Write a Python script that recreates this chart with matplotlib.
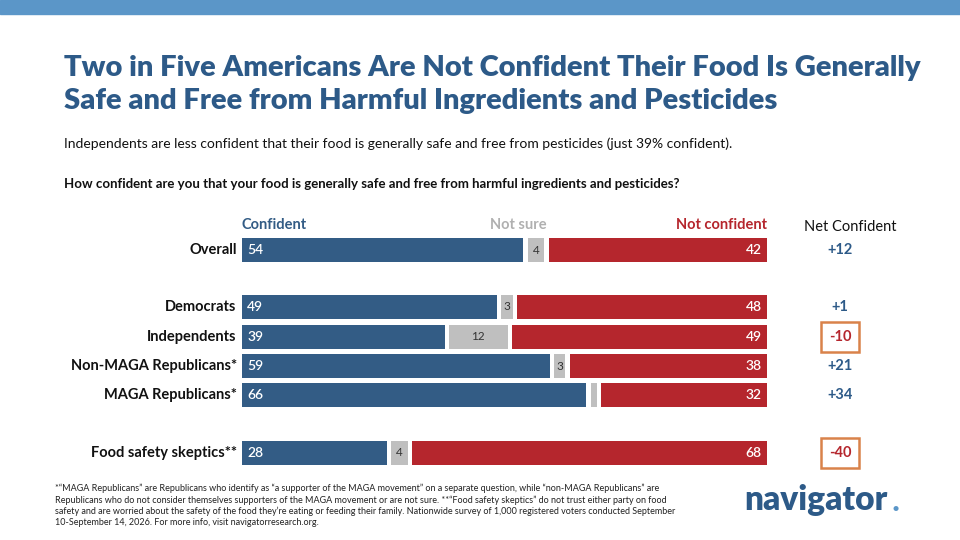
import matplotlib
matplotlib.use("Agg")
import matplotlib.pyplot as plt
from matplotlib.patches import Rectangle

# data
groups = ["Overall", "Democrats", "Independents", "Non-MAGA Republicans*",
          "MAGA Republicans*", "Food safety skeptics**"]
confident = [54, 49, 39, 59, 66, 28]
not_sure = [4, 3, 12, 3, 2, 4]
not_confident = [42, 48, 49, 38, 32, 68]
net = ["+12", "+1", "-10", "+21", "+34", "-40"]
boxed = [False, False, True, False, False, True]

# layout (pixel rows)
row_y = [250, 307, 337, 366, 395, 453]
BLUE = "#335c85"
RED = "#b5262d"
GRAY = "#bfbfbf"
NAVY = "#2d5a88"
ORANGE = "#d9824a"
FONT = ["Lato", "DejaVu Sans"]
GAP = 0.8

fig = plt.figure(figsize=(9.6, 5.4), dpi=100)
fig.patches.append(Rectangle((0, 1 - 14 / 540), 1, 14 / 540, transform=fig.transFigure,
                             color="#5b96c8", zorder=0))

ax = fig.add_axes([242 / 960, 0, 525 / 960, 1])
ax.set_xlim(0, 100)
ax.set_ylim(540, 0)
ax.axis("off")

h = 24
for i, y in enumerate(row_y):
    c, n, nc = confident[i], not_sure[i], not_confident[i]
    ax.barh(y, c - GAP / 2, left=0, height=h, color=BLUE)
    ax.barh(y, n - GAP, left=c + GAP / 2, height=h, color=GRAY)
    ax.barh(y, nc - GAP / 2, left=c + n + GAP / 2, height=h, color=RED)
    ax.text(1, y, str(c), color="white", va="center", ha="left", fontsize=10,
            weight="semibold", family=FONT)
    if n >= 3:
        ax.text(c + n / 2, y, str(n), color="#333333", va="center", ha="center",
                fontsize=8.5, family=FONT)
    ax.text(99, y, str(nc), color="white", va="center", ha="right", fontsize=10,
            weight="semibold", family=FONT)
    ax.text(-1, y, groups[i], va="center", ha="right", fontsize=10.5, weight="bold",
            color="#111111", family=FONT)
    netc = RED if boxed[i] else NAVY
    fig.text(840 / 960, 1 - y / 540, net[i], color=netc, va="center", ha="center",
             fontsize=10.5, weight="bold", family=FONT)
    if boxed[i]:
        fig.patches.append(Rectangle(((840 - 19) / 960, 1 - (y + 15) / 540), 38 / 960, 30 / 540,
                                     transform=fig.transFigure, fill=False,
                                     edgecolor=ORANGE, linewidth=1.8))

ax.text(0, 225, "Confident", color=BLUE, va="center", ha="left", fontsize=10.5,
        weight="bold", family=FONT)
ax.text(58, 225, "Not sure", color="#b0b0b0", va="center", ha="right", fontsize=10.5,
        weight="bold", family=FONT)
ax.text(100, 225, "Not confident", color=RED, va="center", ha="right", fontsize=10.5,
        weight="bold", family=FONT)
fig.text(850 / 960, 1 - 227 / 540, "Net Confident", va="center", ha="center",
         fontsize=10.5, color="#111111", family=FONT)

fig.text(64 / 960, 1 - 68 / 540, "Two in Five Americans Are Not Confident Their Food Is Generally",
         color=NAVY, fontsize=21, weight="heavy", va="center", family=FONT)
fig.text(64 / 960, 1 - 101 / 540, "Safe and Free from Harmful Ingredients and Pesticides",
         color=NAVY, fontsize=21, weight="heavy", va="center", family=FONT)
fig.text(64 / 960, 1 - 144 / 540,
         "Independents are less confident that their food is generally safe and free from "
         "pesticides (just 39% confident).", fontsize=10, va="center", color="#111111", family=FONT)
fig.text(64 / 960, 1 - 184 / 540,
         "How confident are you that your food is generally safe and free from harmful "
         "ingredients and pesticides?", fontsize=9.5, weight="bold", va="center",
         color="#111111", family=FONT)

foot = ("*\u201cMAGA Republicans\u201d are Republicans who identify as \u201ca supporter of the MAGA movement\u201d "
        "on a separate question, while \u201cnon-MAGA Republicans\u201d are\n"
        "Republicans who do not consider themselves supporters of the MAGA movement or are not sure. "
        "**\u201cFood safety skeptics\u201d do not trust either party on food\n"
        "safety and are worried about the safety of the food they\u2019re eating or feeding their family. "
        "Nationwide survey of 1,000 registered voters conducted September\n"
        "10-September 14, 2026. For more info, visit navigatorresearch.org.")
fig.text(55 / 960, 1 - 484 / 540, foot, fontsize=6.5, va="top", color="#222222",
         linespacing=1.25, family=FONT)
fig.text(744 / 960, 1 - 500 / 540, "navigator", fontsize=24, weight="heavy", color=NAVY,
         va="center", ha="left", family=FONT)
fig.text(896 / 960, 1 - 509 / 540, "\u2022", fontsize=10, color="#5b96c8", va="center",
         ha="center", family=FONT)

fig.savefig("out.png", dpi=100)
